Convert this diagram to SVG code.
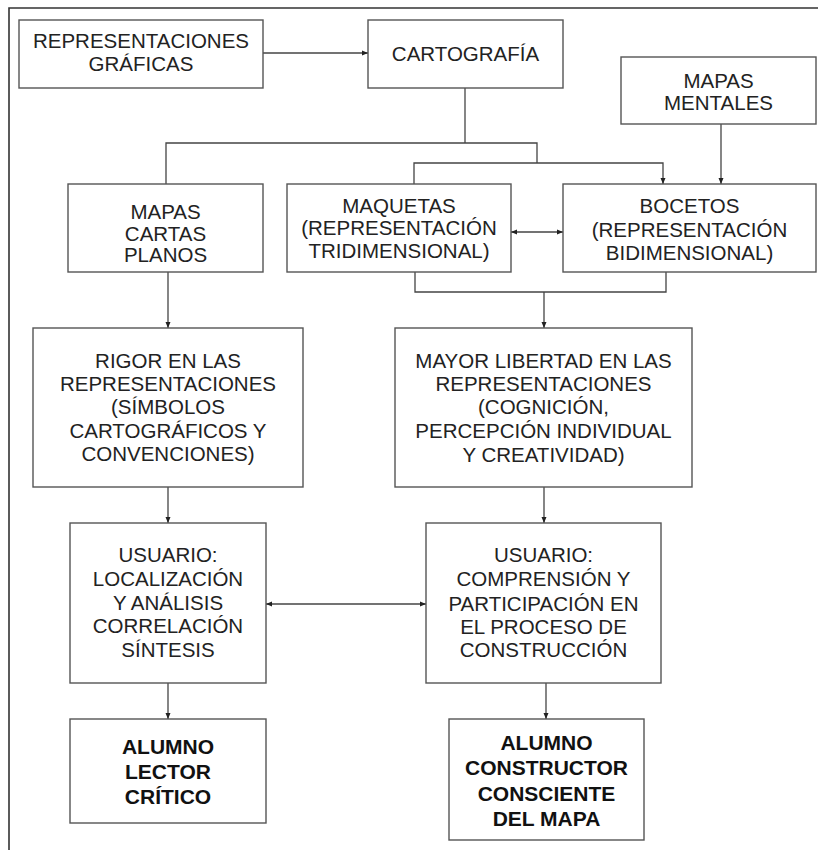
<svg xmlns="http://www.w3.org/2000/svg" width="818" height="850" viewBox="0 0 818 850">
<defs>
<style>
.box{fill:#fff;stroke:#555;stroke-width:1.4}
.t{font-family:"Liberation Sans",Arial,sans-serif;font-size:20.5px;fill:#222;text-anchor:middle}
.b{font-family:"Liberation Sans",Arial,sans-serif;font-size:21px;font-weight:bold;fill:#111;text-anchor:middle}
.c{fill:none;stroke:#444;stroke-width:1.3}
.frame{fill:none;stroke:#333;stroke-width:1.6}
</style>
<marker id="ah" viewBox="0 0 6 6" refX="6" refY="3" markerWidth="6" markerHeight="6" markerUnits="userSpaceOnUse" orient="auto-start-reverse">
<path d="M0,0.5 L6,3 L0,5.5 Z" fill="#222"/>
</marker>
</defs>
<rect width="818" height="850" fill="#fff"/>
<path class="frame" d="M9,850 V8 H818"/>

<g id="connectors">
<path class="c" d="M263,53 H368" marker-end="url(#ah)"/>
<path class="c" d="M465,88 V143"/>
<path class="c" d="M166,184 V143 H537 V163"/>
<path class="c" d="M414,184 V163 H663 V184" marker-end="url(#ah)"/>
<path class="c" d="M721,124 V184" marker-end="url(#ah)"/>
<path class="c" d="M511,232 H563" marker-start="url(#ah)" marker-end="url(#ah)"/>
<path class="c" d="M415,272 V292 H666 V272"/>
<path class="c" d="M544,292 V328" marker-end="url(#ah)"/>
<path class="c" d="M168,272 V328" marker-end="url(#ah)"/>
<path class="c" d="M168,487 V523" marker-end="url(#ah)"/>
<path class="c" d="M544,487 V523" marker-end="url(#ah)"/>
<path class="c" d="M266,604 H426" marker-start="url(#ah)" marker-end="url(#ah)"/>
<path class="c" d="M168,683 V719" marker-end="url(#ah)"/>
<path class="c" d="M546,683 V719" marker-end="url(#ah)"/>
</g>

<g id="representaciones">
<rect class="box" x="19" y="20" width="244" height="68"/>
<text class="t" x="141" y="47.5">REPRESENTACIONES</text>
<text class="t" x="141" y="70.5">GRÁFICAS</text>
</g>

<g id="cartografia">
<rect class="box" x="368" y="20" width="195" height="68"/>
<text class="t" x="465.5" y="61">CARTOGRAFÍA</text>
</g>

<g id="mapas-mentales">
<rect class="box" x="621" y="57" width="195" height="67"/>
<text class="t" x="718.5" y="87.5">MAPAS</text>
<text class="t" x="718.5" y="109.5">MENTALES</text>
</g>

<g id="mapas">
<rect class="box" x="68" y="184" width="195" height="88"/>
<text class="t" x="165.5" y="219">MAPAS</text>
<text class="t" x="165.5" y="240.5">CARTAS</text>
<text class="t" x="165.5" y="262">PLANOS</text>
</g>

<g id="maquetas">
<rect class="box" x="287" y="184" width="224" height="88"/>
<text class="t" x="399" y="212.5">MAQUETAS</text>
<text class="t" x="399" y="235">(REPRESENTACIÓN</text>
<text class="t" x="399" y="257.5">TRIDIMENSIONAL)</text>
</g>

<g id="bocetos">
<rect class="box" x="563" y="184" width="253" height="88"/>
<text class="t" x="689.5" y="213">BOCETOS</text>
<text class="t" x="689.5" y="236.5">(REPRESENTACIÓN</text>
<text class="t" x="689.5" y="260">BIDIMENSIONAL)</text>
</g>

<g id="rigor">
<rect class="box" x="33" y="328" width="270" height="159"/>
<text class="t" x="168" y="368">RIGOR EN LAS</text>
<text class="t" x="168" y="391">REPRESENTACIONES</text>
<text class="t" x="168" y="414">(SÍMBOLOS</text>
<text class="t" x="168" y="437.5">CARTOGRÁFICOS Y</text>
<text class="t" x="168" y="460.5">CONVENCIONES)</text>
</g>

<g id="libertad">
<rect class="box" x="395" y="328" width="297" height="159"/>
<text class="t" x="543.5" y="368">MAYOR LIBERTAD EN LAS</text>
<text class="t" x="543.5" y="391">REPRESENTACIONES</text>
<text class="t" x="543.5" y="414">(COGNICIÓN,</text>
<text class="t" x="543.5" y="438">PERCEPCIÓN INDIVIDUAL</text>
<text class="t" x="543.5" y="461.5">Y CREATIVIDAD)</text>
</g>

<g id="usuario-lector">
<rect class="box" x="70" y="523" width="196" height="160"/>
<text class="t" x="168" y="562">USUARIO:</text>
<text class="t" x="168" y="585.5">LOCALIZACIÓN</text>
<text class="t" x="168" y="609.5">Y ANÁLISIS</text>
<text class="t" x="168" y="633">CORRELACIÓN</text>
<text class="t" x="168" y="656.5">SÍNTESIS</text>
</g>

<g id="usuario-constructor">
<rect class="box" x="426" y="523" width="235" height="160"/>
<text class="t" x="543.5" y="562">USUARIO:</text>
<text class="t" x="543.5" y="585.5">COMPRENSIÓN Y</text>
<text class="t" x="543.5" y="610.5">PARTICIPACIÓN EN</text>
<text class="t" x="543.5" y="634">EL PROCESO DE</text>
<text class="t" x="543.5" y="657">CONSTRUCCIÓN</text>
</g>

<g id="alumno-lector">
<rect class="box" x="70" y="719" width="196" height="104"/>
<text class="b" x="168" y="754">ALUMNO</text>
<text class="b" x="168" y="779">LECTOR</text>
<text class="b" x="168" y="804">CRÍTICO</text>
</g>

<g id="alumno-constructor">
<rect class="box" x="449" y="719" width="195" height="121"/>
<text class="b" x="546.5" y="750">ALUMNO</text>
<text class="b" x="546.5" y="775">CONSTRUCTOR</text>
<text class="b" x="546.5" y="801">CONSCIENTE</text>
<text class="b" x="546.5" y="826">DEL MAPA</text>
</g>
</svg>
